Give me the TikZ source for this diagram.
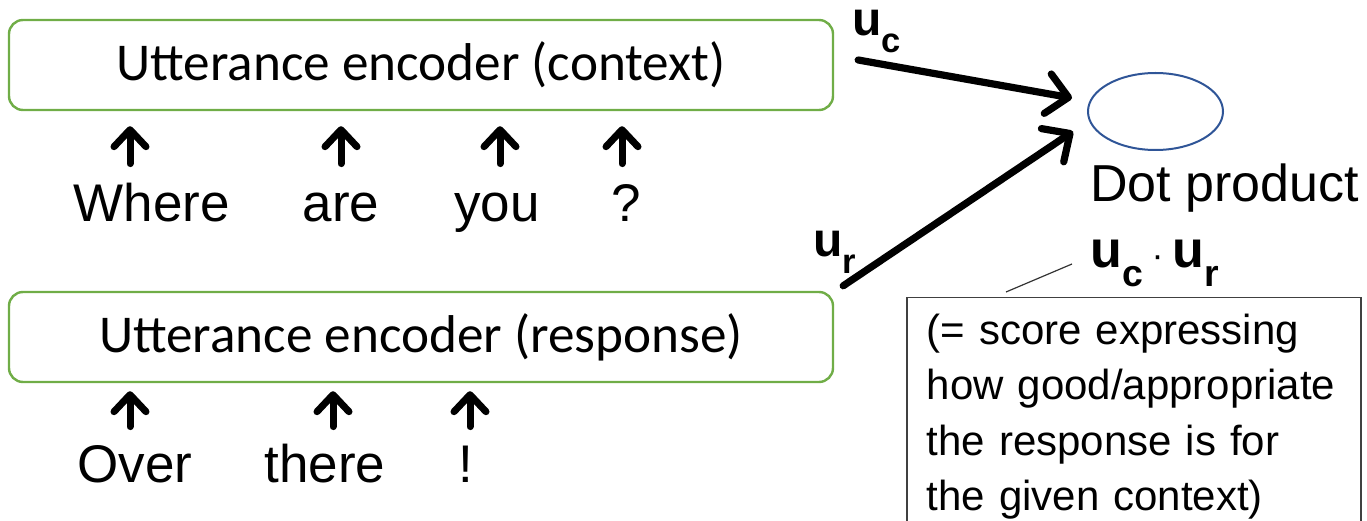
\documentclass[tikz,border=0pt]{standalone}
\usepackage{fontspec}
\setmainfont{Liberation Sans}
\newfontfamily\calibri{Carlito}
\usetikzlibrary{arrows.meta,shapes.geometric}

\definecolor{encgreen}{RGB}{112,173,71}
\definecolor{dotblue}{RGB}{47,85,151}

% bold vector u with a lowered index
\newcommand{\usub}[1]{u\raisebox{-0.35em}{\scalebox{0.72}{#1}}}

\begin{document}
\begin{tikzpicture}[x=0.5pt, y=0.5pt,
  encoder/.style={draw=encgreen, line width=1.2pt, rounded corners=7pt,
    minimum width=412pt, minimum height=45pt,
    font=\calibri\fontsize{26.6}{30}\selectfont},
  word/.style={anchor=base, inner sep=0pt, text height=20pt, text depth=5pt,
    font=\fontsize{26.5}{30}\selectfont},
  tok/.style={line width=3.5pt, line cap=round,
    -{Straight Barb[length=8.5pt, width=16pt, round]}},
  feed/.style={line width=3.6pt, line cap=round,
    -{Straight Barb[length=10.5pt, width=20pt, round]}},
  vec/.style={anchor=base west, inner sep=0pt,
    font=\bfseries\fontsize{24}{28}\selectfont},
  note/.style={draw=black!75, line width=0.75pt, anchor=north west,
    text width=207pt, inner xsep=10pt, inner ysep=0pt, align=left,
    font=\fontsize{21}{27.6}\selectfont},
]

  \useasboundingbox (0,0) rectangle (1367,520);

  % ============================================================
  % Encoders
  % ============================================================
  \node[encoder] (ctx) at (421,455) {Utterance encoder (context)};
  \node[encoder] (rsp) at (421,183) {Utterance encoder (response)};

  % context tokens
  \node[word] (where) at (152,298) {Where};
  \node[word] (are)   at (341,298) {are};
  \node[word] (you)   at (497,298) {you};
  \node[word] (qm)    at (626,298) {?};

  \foreach \w/\dx in {where/-11pt, are/0pt, you/1.5pt, qm/-2pt}
    \draw[tok] ([xshift=\dx, yshift=9pt]\w.north)
      -- ([xshift=\dx, yshift=-7.5pt]ctx.south -| \w.north);

  % response tokens
  \node[word] (over)  at (135,38) {Over};
  \node[word] (there) at (325,38) {there};
  \node[word] (excl)  at (466,38) {!};

  \foreach \w/\dx in {over/-2.5pt, there/4pt, excl/2pt}
    \draw[tok] ([xshift=\dx, yshift=7.5pt]\w.north)
      -- ([xshift=\dx, yshift=-4pt]rsp.south -| \w.north);

  % ============================================================
  % Dot product
  % ============================================================
  \node[draw=dotblue, line width=1pt, ellipse, minimum width=67.5pt,
    minimum height=38.5pt] (dot) at (1155.5,408.5) {};
  \node[anchor=base west, inner sep=0pt, font=\fontsize{26}{30}\selectfont]
    (dotlbl) at (1090,318) {Dot product};

  \draw[feed] ([xshift=12pt, yshift=2.5pt]ctx.east)
    -- ([xshift=-7.5pt, yshift=6.75pt]dot.west);
  \draw[feed] ([xshift=4.5pt, yshift=2.5pt]rsp.north east)
    -- ([xshift=-7pt, yshift=-10pt]dot.west);

  \node[vec] (uc) at (852,484) {\usub{c}};
  \node[vec] (ur) at (813,263) {\usub{r}};

  % ============================================================
  % Score note
  % ============================================================
  \node[vec, font=\bfseries\fontsize{26}{30}\selectfont]
    (prod) at (1090,252) {\usub{c}\,{\mdseries\fontsize{18}{20}\selectfont\textperiodcentered}\,\usub{r}};

  \node[note] (note) at (906,223)
    {\rule{0pt}{23.5pt}(= score expressing\\
     how good/appropriate\\
     the response is for\\
     the given context)\rule[-30pt]{0pt}{30pt}};

  \draw[black!80, line width=0.6pt] ([xshift=-9pt, yshift=2pt]prod.base west)
    -- ([xshift=50pt, yshift=2.5pt]note.north west);

\end{tikzpicture}
\end{document}
